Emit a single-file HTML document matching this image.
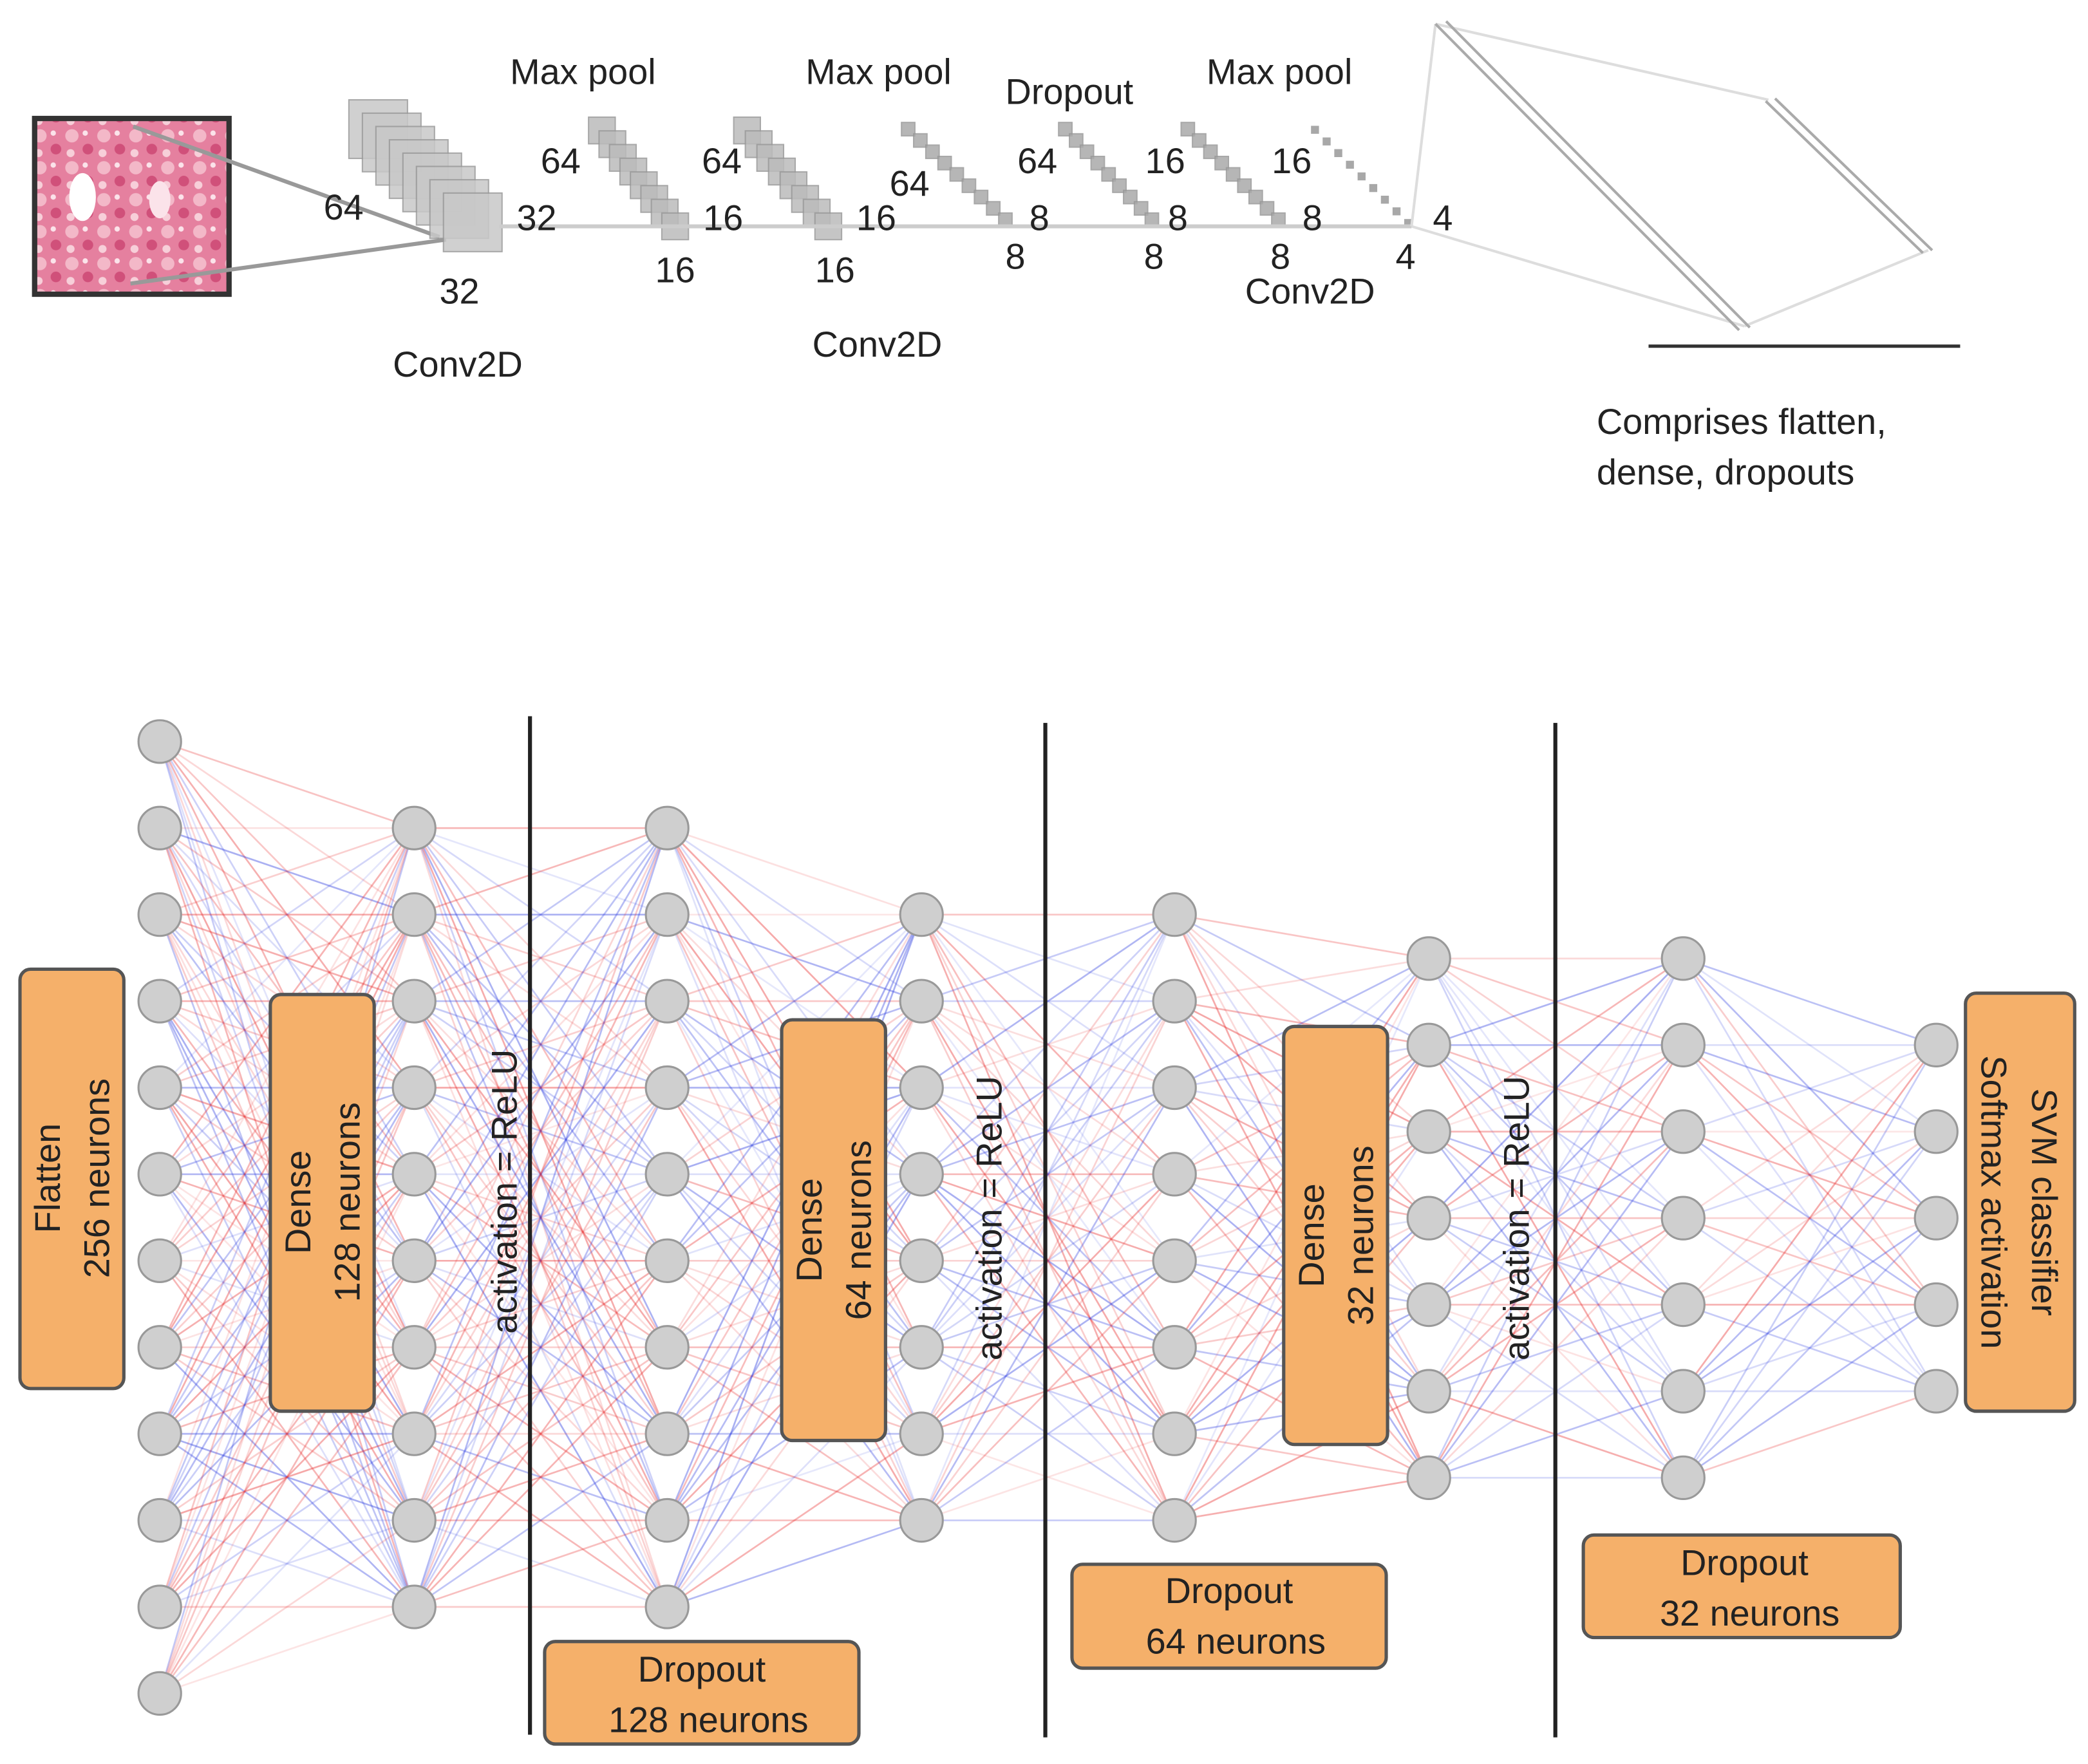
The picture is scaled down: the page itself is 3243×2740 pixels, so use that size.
<!DOCTYPE html>
<html><head><meta charset="utf-8"><style>
html,body{margin:0;padding:0;background:#fff;}
svg{display:block}
text{font-family:"Liberation Sans",sans-serif;fill:#222}
</style></head><body>
<svg id="s" width="3243" height="2740" viewBox="0 0 1568 1325" preserveAspectRatio="none" xmlns="http://www.w3.org/2000/svg">
<defs>
<pattern id="tis" width="24" height="24" patternUnits="userSpaceOnUse">
<rect width="24" height="24" fill="#e5809f"/>
<circle cx="6" cy="6" r="5" fill="#f3b8c8"/><circle cx="18" cy="16" r="4" fill="#d0507a"/>
<circle cx="16" cy="4" r="2" fill="#fbe3ea"/><circle cx="5" cy="19" r="3" fill="#f7cfd9"/>
</pattern>
</defs>
<!-- top section -->
<rect x="26" y="89" width="146" height="132" fill="url(#tis)" stroke="#333" stroke-width="4"/>
<ellipse cx="62" cy="148" rx="10" ry="18" fill="#fff"/><ellipse cx="120" cy="150" rx="8" ry="14" fill="#fbe3ea"/>
<line x1="100" y1="95" x2="330" y2="178" stroke="#999" stroke-width="3"/>
<line x1="98" y1="213" x2="335" y2="180" stroke="#999" stroke-width="3"/>
<g id="stacks"></g>
<line x1="375" y1="170" x2="1060" y2="170" stroke="#ccc" stroke-width="3"/>
<g stroke="#ddd" stroke-width="2" fill="none">
<line x1="1060" y1="170" x2="1078" y2="18"/><line x1="1060" y1="170" x2="1310" y2="245"/>
<line x1="1078" y1="18" x2="1328" y2="75"/><line x1="1448" y1="188" x2="1310" y2="245"/>
</g>
<g stroke="#aaa" stroke-width="2" fill="none">
<line x1="1078" y1="18" x2="1306" y2="248"/><line x1="1086" y1="16" x2="1314" y2="246"/>
<line x1="1326" y1="76" x2="1444" y2="190"/><line x1="1333" y1="74" x2="1451" y2="188"/>
</g>
<line x1="1238" y1="260" x2="1472" y2="260" stroke="#333" stroke-width="2.5"/>
<g font-size="27">
<text x="383" y="63">Max pool</text><text x="605" y="63">Max pool</text><text x="755" y="78">Dropout</text><text x="906" y="63">Max pool</text>
<text x="243" y="165">64</text><text x="388" y="173">32</text><text x="330" y="228">32</text><text x="295" y="283">Conv2D</text>
<text x="406" y="130">64</text><text x="528" y="173">16</text><text x="492" y="212">16</text>
<text x="527" y="130">64</text><text x="643" y="173">16</text><text x="612" y="212">16</text><text x="610" y="268">Conv2D</text>
<text x="668" y="147">64</text><text x="773" y="173">8</text><text x="755" y="202">8</text>
<text x="764" y="130">64</text><text x="877" y="173">8</text><text x="859" y="202">8</text>
<text x="860" y="130">16</text><text x="978" y="173">8</text><text x="954" y="202">8</text>
<text x="955" y="130">16</text><text x="1076" y="173">4</text><text x="1048" y="202">4</text><text x="935" y="228">Conv2D</text>
<text x="1199" y="326">Comprises flatten,</text><text x="1199" y="364">dense, dropouts</text>
</g>
<!-- network -->
<g id="edges"></g>
<g stroke="#222" stroke-width="3">
<line x1="398" y1="538" x2="398" y2="1303"/><line x1="785" y1="543" x2="785" y2="1305"/><line x1="1168" y1="543" x2="1168" y2="1305"/>
</g>
<g id="nodes"></g>
<g fill="#f5b06a" stroke="#555" stroke-width="2.5">
<rect x="15" y="728" width="78" height="315" rx="8"/><rect x="203" y="747" width="78" height="313" rx="8"/>
<rect x="409" y="1233" width="236" height="77" rx="8"/><rect x="587" y="766" width="78" height="316" rx="8"/>
<rect x="805" y="1175" width="236" height="78" rx="8"/><rect x="964" y="771" width="78" height="314" rx="8"/>
<rect x="1189" y="1153" width="238" height="77" rx="8"/><rect x="1476" y="746" width="82" height="314" rx="8"/>
</g>
<g font-size="27" text-anchor="middle">
<text transform="translate(45,885) rotate(-90)">Flatten</text><text transform="translate(82,885) rotate(-90)">256 neurons</text>
<text transform="translate(233,903) rotate(-90)">Dense</text><text transform="translate(270,903) rotate(-90)">128 neurons</text>
<text transform="translate(617,924) rotate(-90)">Dense</text><text transform="translate(654,924) rotate(-90)">64 neurons</text>
<text transform="translate(994,928) rotate(-90)">Dense</text><text transform="translate(1031,928) rotate(-90)">32 neurons</text>
<text transform="translate(1526,903) rotate(90)">SVM classifier</text><text transform="translate(1488,903) rotate(90)">Softmax activation</text>
<text transform="translate(388,895) rotate(-90)">activation = ReLU</text>
<text transform="translate(752,915) rotate(-90)">activation = ReLU</text>
<text transform="translate(1148,915) rotate(-90)">activation = ReLU</text>
<text x="527" y="1263">Dropout</text><text x="532" y="1301">128 neurons</text>
<text x="923" y="1204">Dropout</text><text x="928" y="1242">64 neurons</text>
<text x="1310" y="1183">Dropout</text><text x="1314" y="1221">32 neurons</text>
</g>
</svg>
<script>
var NS="http://www.w3.org/2000/svg";
function el(p,t,a){var e=document.createElementNS(NS,t);for(var k in a)e.setAttribute(k,a[k]);p.appendChild(e);return e;}
var st=document.getElementById("stacks");
function stack(x0,y0,x1,y1,n,sz,fill){for(var i=0;i<n;i++){var t=i/(n-1);el(st,"rect",{x:x0+(x1-x0)*t,y:y0+(y1-y0)*t,width:sz,height:sz,fill:fill,stroke:"#999","stroke-width":1,opacity:0.85});}}
stack(262,75,333,145,8,44,"#c8c8c8");
stack(442,88,497,160,8,20,"#bbb");
stack(551,88,612,160,8,20,"#bbb");
stack(677,92,750,160,9,10,"#aaa");
stack(795,92,860,160,9,10,"#aaa");
stack(887,92,955,160,9,10,"#aaa");
stack(985,95,1055,165,9,5,"#999");
var cols=[[120,557,12],[311,622,10],[501,622,10],[692,687,8],[882,687,8],[1073,720,7],[1264,720,7],[1454,785,5]];
var seed=7;function r(){seed=(seed*9301+49297)%233280;return seed/233280;}
var eg=document.getElementById("edges"),ng=document.getElementById("nodes");
for(var c=0;c<cols.length-1;c++){var A=cols[c],B=cols[c+1];
for(var i=0;i<A[2];i++)for(var j=0;j<B[2];j++){
el(eg,"line",{x1:A[0],y1:A[1]+65*i,x2:B[0],y2:B[1]+65*j,stroke:r()<0.5?"#e83030":"#3040e0","stroke-width":1.3,"stroke-opacity":(0.12+r()*0.3).toFixed(2)});}}
cols.forEach(function(C){for(var i=0;i<C[2];i++)el(ng,"circle",{cx:C[0],cy:C[1]+65*i,r:16,fill:"#cfcfcf",stroke:"#999","stroke-width":1.5});});
</script>
</body></html>
